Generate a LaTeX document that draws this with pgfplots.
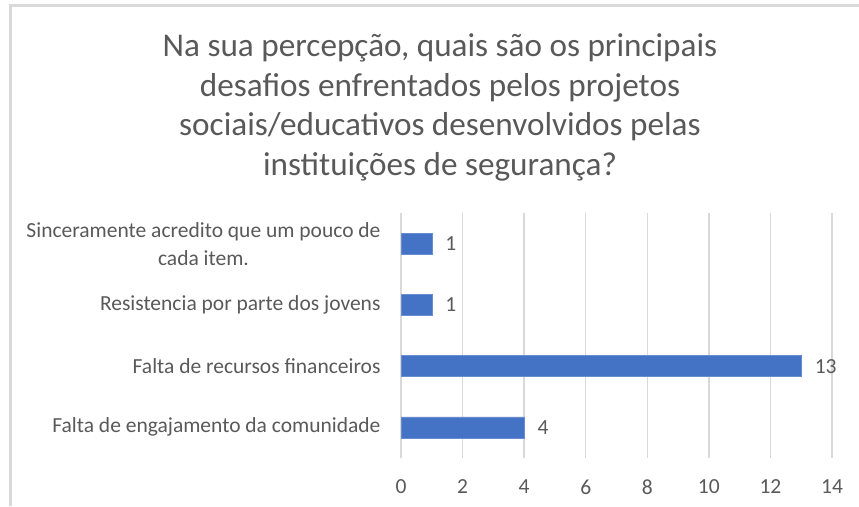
\documentclass[border=0pt]{standalone}
\usepackage{pgfplots}
\pgfplotsset{compat=1.18}
\usepackage{fontspec}
\setmainfont{Carlito}
\definecolor{barblue}{HTML}{4472C4}
\definecolor{txtgray}{HTML}{595959}
\definecolor{gridgray}{HTML}{D9D9D9}
\begin{document}
\begin{tikzpicture}[x=1pt,y=1pt]
\useasboundingbox (0,0) rectangle (859,506);
\draw[gridgray, line width=3pt] (10,0) -- (10,500) -- (859,500);
\node[text=txtgray, align=center, font=\fontsize{33.2}{39.7}\selectfont, anchor=center] at (440,398.5)
 {Na sua percepção, quais são os principais\\desafios enfrentados pelos projetos\\sociais/educativos desenvolvidos pelas\\instituições de segurança?};
\begin{axis}[
  at={(401pt,48pt)}, anchor=south west,
  scale only axis, width=431pt, height=245pt,
  xmin=0, xmax=14, ymin=-0.5, ymax=3.5,
  xtick={0,2,...,14},
  ytick={0,1,2,3},
  yticklabels={Falta de engajamento da comunidade,Falta de recursos financeiros,Resistencia por parte dos jovens,{Sinceramente acredito que um pouco de\\cada item.}},
  yticklabel style={align=center, font=\fontsize{21.5}{28}\selectfont, text=txtgray, xshift=-17pt},
  xticklabel style={font=\fontsize{21.5}{24}\selectfont, text=txtgray, yshift=-18pt},
  /pgf/number format/assume math mode=true,
  axis line style={draw=none},
  major tick length=0pt,
  xmajorgrids, grid style={draw=gridgray, line width=1.5pt},
  ymajorgrids=false,
  xbar, bar width=21pt,
  nodes near coords,
  nodes near coords style={font=\fontsize{21.5}{24}\selectfont, text=txtgray, anchor=west, xshift=10pt},
]
\addplot[fill=barblue, draw=barblue!80!white] coordinates {(4,0) (13,1) (1,2) (1,3)};
\end{axis}
\end{tikzpicture}
\end{document}
